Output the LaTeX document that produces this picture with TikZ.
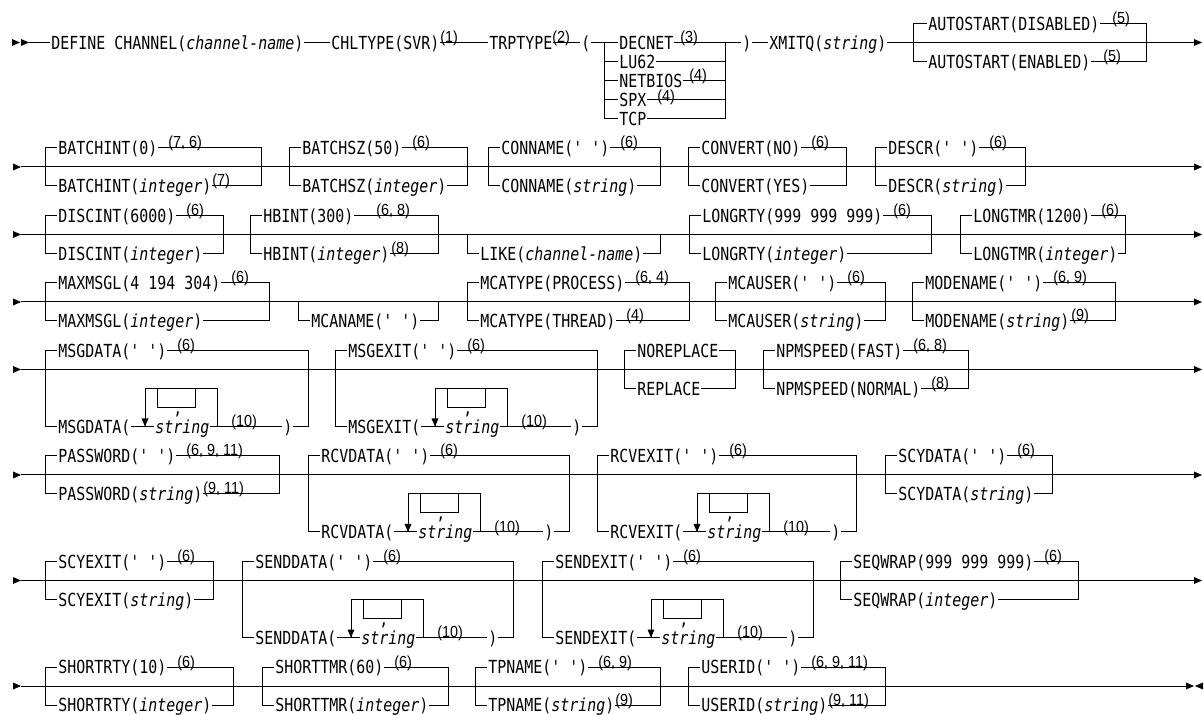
\documentclass[tikz,border=0pt]{standalone}
\usepackage{fontspec}
\newfontfamily\railfont[FakeStretch=0.83]{DejaVu Sans Mono}
\newfontfamily\notefont[FakeStretch=0.9]{Liberation Sans}
\tikzset{
  rail/.style={line width=0.5pt},
  kw/.style={font=\railfont\fontsize{9}{10}\selectfont, anchor=base west,
    yshift=-3.3pt, inner xsep=0.5pt, inner ysep=0.2pt, fill=white},
  fn/.style={font=\notefont\fontsize{8}{9}\selectfont, anchor=base west, inner sep=0pt},
}

\begin{document}
\begin{tikzpicture}[x=0.5pt,y=-0.5pt]
  \useasboundingbox (0,0) rectangle (1204,715);
  \newcommand{\kw}[4]{\node[kw] (#1) at (#2,#3) {#4};}
  \newcommand{\fnote}[4]{\node[fn] (#1) at (#2,#3) {#4};}
  \newcommand{\tipR}[2]{\fill (#1,#2-3.5) -- (#1+8,#2) -- (#1,#2+3.5) -- cycle;}
  \newcommand{\tipL}[2]{\fill (#1,#2-3.5) -- (#1-8,#2) -- (#1,#2+3.5) -- cycle;}
  \newcommand{\tipD}[2]{\fill (#1-3.5,#2-8) -- (#1,#2) -- (#1+3.5,#2-8) -- cycle;}
  \newcommand{\sel}[4]{\draw[rail] (#1,#3) rectangle (#2,#4);}
  \newcommand{\onlybot}[4]{\draw[rail] (#1,#3) |- (#2,#4) -- (#2,#3);}
  \newcommand{\mainline}[1]{\tipR{13}{#1}\draw[rail] (21,#1) -- (1194,#1);\tipR{1194}{#1}}
  % repeat loop with the comma separator, string on the lower line
  \newcommand{\loopbox}[3]{%
    \draw[rail] (#1,#2) rectangle (#1+72,#2+38);
    \draw[rail] (#1+12,#2) |- (#1+50,#2+19) -- (#1+50,#2);
    \tipD{#1}{#2+38}
    \node[kw,fill=none] (#3-sep) at (#1+27,#2+19) {,};
    \node[kw] (#3-str) at (#1+9,#2+38) {\textit{string}};}

  % row 1
  \tipR{12}{42.5}\tipR{21}{42.5}
  \draw[rail] (29,42.5) -- (1194,42.5); \tipR{1194}{42.5}
  \sel{604}{725}{42.5}{118.5}
  \foreach \y in {61.5,80.5,99.5} \draw[rail] (604,\y) -- (725,\y);
  \sel{913}{1146}{23.5}{61.5}
  \kw{define}{50}{42.5}{DEFINE CHANNEL(\textit{channel-name})}
  \kw{chltype}{330}{42.5}{CHLTYPE(SVR)} \fnote{chltypen}{440}{42.5}{(1)}
  \kw{trptype}{488}{42.5}{TRPTYPE} \fnote{trptypen}{552}{42.5}{(2)}
  \kw{trpopen}{580}{42.5}{(}
  \foreach \t/\y [count=\i] in {DECNET/42.5,LU62/61.5,NETBIOS/80.5,SPX/99.5,TCP/118.5}
    \kw{trp\i}{618}{\y}{\t};
  \fnote{decnetn}{680}{42.5}{(3)}
  \fnote{netbiosn}{689}{80.5}{(4)}
  \fnote{spxn}{657}{101.5}{(4)}
  \kw{trpclose}{741}{42.5}{)}
  \kw{xmitq}{768}{42.5}{XMITQ(\textit{string})}
  \kw{autodis}{927}{23.5}{AUTOSTART(DISABLED)} \fnote{autodisn}{1112}{23.5}{(5)}
  \kw{autoena}{927}{61.5}{AUTOSTART(ENABLED)} \fnote{autoenan}{1103}{61.5}{(5)}

  % row 2
  \mainline{167}
  \sel{45}{261}{148}{186} \sel{289}{467}{148}{186} \sel{488}{660}{148}{186}
  \sel{688}{846}{148}{186} \sel{875}{1025}{148}{186}
  \kw{bi0}{57}{148}{BATCHINT(0)} \fnote{bi0n}{168}{148}{(7, 6)}
  \kw{bii}{57}{186}{BATCHINT(\textit{integer})} \fnote{biin}{212}{186}{(7)}
  \kw{bs50}{301}{148}{BATCHSZ(50)} \fnote{bs50n}{412}{148}{(6)}
  \kw{bsi}{301}{186}{BATCHSZ(\textit{integer})}
  \kw{cnb}{500}{148}{CONNAME(' ')} \fnote{cnbn}{620}{148}{(6)}
  \kw{cns}{500}{186}{CONNAME(\textit{string})}
  \kw{cvn}{700}{148}{CONVERT(NO)} \fnote{cvnn}{811}{148}{(6)}
  \kw{cvy}{700}{186}{CONVERT(YES)}
  \kw{dsb}{887}{148}{DESCR(' ')} \fnote{dsbn}{989}{148}{(6)}
  \kw{dss}{887}{186}{DESCR(\textit{string})}

  % row 3
  \mainline{234.5}
  \sel{45}{223}{215.5}{253.5} \sel{250}{438}{215.5}{253.5}
  \onlybot{467}{660}{234.5}{253.5}
  \sel{689}{931}{215.5}{253.5} \sel{960}{1125}{215.5}{253.5}
  \kw{dc6}{57}{215.5}{DISCINT(6000)} \fnote{dc6n}{186}{215.5}{(6)}
  \kw{dci}{57}{253.5}{DISCINT(\textit{integer})}
  \kw{hb3}{262}{215.5}{HBINT(300)} \fnote{hb3n}{376}{215.5}{(6, 8)}
  \kw{hbi}{262}{253.5}{HBINT(\textit{integer})} \fnote{hbin}{391}{253.5}{(8)}
  \kw{like}{479}{253.5}{LIKE(\textit{channel-name})}
  \kw{lr9}{701}{215.5}{LONGRTY(999 999 999)} \fnote{lr9n}{893}{215.5}{(6)}
  \kw{lri}{701}{253.5}{LONGRTY(\textit{integer})}
  \kw{lt1}{972}{215.5}{LONGTMR(1200)} \fnote{lt1n}{1101}{215.5}{(6)}
  \kw{lti}{972}{253.5}{LONGTMR(\textit{integer})}

  % row 4
  \mainline{302}
  \sel{45}{269}{283}{321} \onlybot{298}{438}{302}{321}
  \sel{467}{689}{283}{321} \sel{715}{885}{283}{321} \sel{912}{1115}{283}{321}
  \kw{mm4}{57}{283}{MAXMSGL(4 194 304)} \fnote{mm4n}{231}{283}{(6)}
  \kw{mmi}{57}{321}{MAXMSGL(\textit{integer})}
  \kw{mcn}{310}{321}{MCANAME(' ')}
  \kw{mtp}{479}{283}{MCATYPE(PROCESS)} \fnote{mtpn}{635}{283}{(6, 4)}
  \kw{mtt}{479}{321}{MCATYPE(THREAD)} \fnote{mttn}{626}{321}{(4)}
  \kw{mub}{727}{283}{MCAUSER(' ')} \fnote{mubn}{847}{283}{(6)}
  \kw{mus}{727}{321}{MCAUSER(\textit{string})}
  \kw{mdb}{924}{283}{MODENAME(' ')} \fnote{mdbn}{1053}{283}{(6, 9)}
  \kw{mds}{924}{321}{MODENAME(\textit{string})} \fnote{mdsn}{1071}{321}{(9)}

  % row 5
  \mainline{369.5}
  \sel{45}{308}{350.5}{426.5} \sel{335}{597}{350.5}{426.5}
  \sel{624}{735}{350.5}{388.5} \sel{763}{968}{350.5}{388.5}
  \kw{mgb}{57}{350.5}{MSGDATA(' ')} \fnote{mgbn}{177}{350.5}{(6)}
  \kw{mgo}{57}{426.5}{MSGDATA(} \loopbox{145}{388.5}{mgl}
  \fnote{mgln}{231}{426.5}{(10)} \kw{mgc}{282}{426.5}{)}
  \kw{mxb}{347}{350.5}{MSGEXIT(' ')} \fnote{mxbn}{467}{350.5}{(6)}
  \kw{mxo}{347}{426.5}{MSGEXIT(} \loopbox{435}{388.5}{mxl}
  \fnote{mxln}{521}{426.5}{(10)} \kw{mxc}{571}{426.5}{)}
  \kw{norep}{636}{350.5}{NOREPLACE} \kw{rep}{636}{388.5}{REPLACE}
  \kw{npf}{775}{350.5}{NPMSPEED(FAST)} \fnote{npfn}{913}{350.5}{(6, 8)}
  \kw{npn}{775}{388.5}{NPMSPEED(NORMAL)} \fnote{npnn}{931}{388.5}{(8)}

  % row 6
  \mainline{475}
  \sel{45}{279}{456}{494} \sel{308}{569}{456}{532}
  \sel{597}{856}{456}{532} \sel{885}{1052}{456}{494}
  \kw{pwb}{57}{456}{PASSWORD(' ')} \fnote{pwbn}{186}{456}{(6, 9, 11)}
  \kw{pws}{57}{494}{PASSWORD(\textit{string})} \fnote{pwsn}{203}{494}{(9, 11)}
  \kw{rdb}{320}{456}{RCVDATA(' ')} \fnote{rdbn}{440}{456}{(6)}
  \kw{rdo}{320}{532}{RCVDATA(} \loopbox{408}{494}{rdl}
  \fnote{rdln}{494}{532}{(10)} \kw{rdc}{543}{532}{)}
  \kw{rxb}{609}{456}{RCVEXIT(' ')} \fnote{rxbn}{729}{456}{(6)}
  \kw{rxo}{609}{532}{RCVEXIT(} \loopbox{697}{494}{rxl}
  \fnote{rxln}{783}{532}{(10)} \kw{rxc}{830}{532}{)}
  \kw{sdb}{897}{456}{SCYDATA(' ')} \fnote{sdbn}{1017}{456}{(6)}
  \kw{sds}{897}{494}{SCYDATA(\textit{string})}

  % row 7
  \mainline{580.5}
  \sel{45}{213}{561.5}{599.5} \sel{242}{513}{561.5}{637.5}
  \sel{542}{813}{561.5}{637.5} \sel{840}{1078}{561.5}{599.5}
  \kw{sxb}{57}{561.5}{SCYEXIT(' ')} \fnote{sxbn}{177}{561.5}{(6)}
  \kw{sxs}{57}{599.5}{SCYEXIT(\textit{string})}
  \kw{snb}{254}{561.5}{SENDDATA(' ')} \fnote{snbn}{383}{561.5}{(6)}
  \kw{sno}{254}{637.5}{SENDDATA(} \loopbox{351}{599.5}{snl}
  \fnote{snln}{437}{637.5}{(10)} \kw{snc}{487}{637.5}{)}
  \kw{seb}{554}{561.5}{SENDEXIT(' ')} \fnote{sebn}{683}{561.5}{(6)}
  \kw{seo}{554}{637.5}{SENDEXIT(} \loopbox{651}{599.5}{sel}
  \fnote{seln}{737}{637.5}{(10)} \kw{sec}{787}{637.5}{)}
  \kw{sqb}{852}{561.5}{SEQWRAP(999 999 999)} \fnote{sqbn}{1044}{561.5}{(6)}
  \kw{sqi}{852}{599.5}{SEQWRAP(\textit{integer})}

  % row 8
  \tipR{13}{686}\draw[rail] (21,686) -- (1186,686);
  \tipR{1186}{686}\tipL{1203}{686}
  \sel{45}{233}{667}{705} \sel{262}{448}{667}{705}
  \sel{475}{660}{667}{705} \sel{688}{885}{667}{705}
  \kw{st10}{57}{667}{SHORTRTY(10)} \fnote{st10n}{177}{667}{(6)}
  \kw{sti}{57}{705}{SHORTRTY(\textit{integer})}
  \kw{sm60}{274}{667}{SHORTTMR(60)} \fnote{sm60n}{394}{667}{(6)}
  \kw{smi}{274}{705}{SHORTTMR(\textit{integer})}
  \kw{tpb}{487}{667}{TPNAME(' ')} \fnote{tpbn}{598}{667}{(6, 9)}
  \kw{tps}{487}{705}{TPNAME(\textit{string})} \fnote{tpsn}{615}{705}{(9)}
  \kw{uib}{700}{667}{USERID(' ')} \fnote{uibn}{811}{667}{(6, 9, 11)}
  \kw{uis}{700}{705}{USERID(\textit{string})} \fnote{uisn}{828}{705}{(9, 11)}
\end{tikzpicture}
\end{document}
